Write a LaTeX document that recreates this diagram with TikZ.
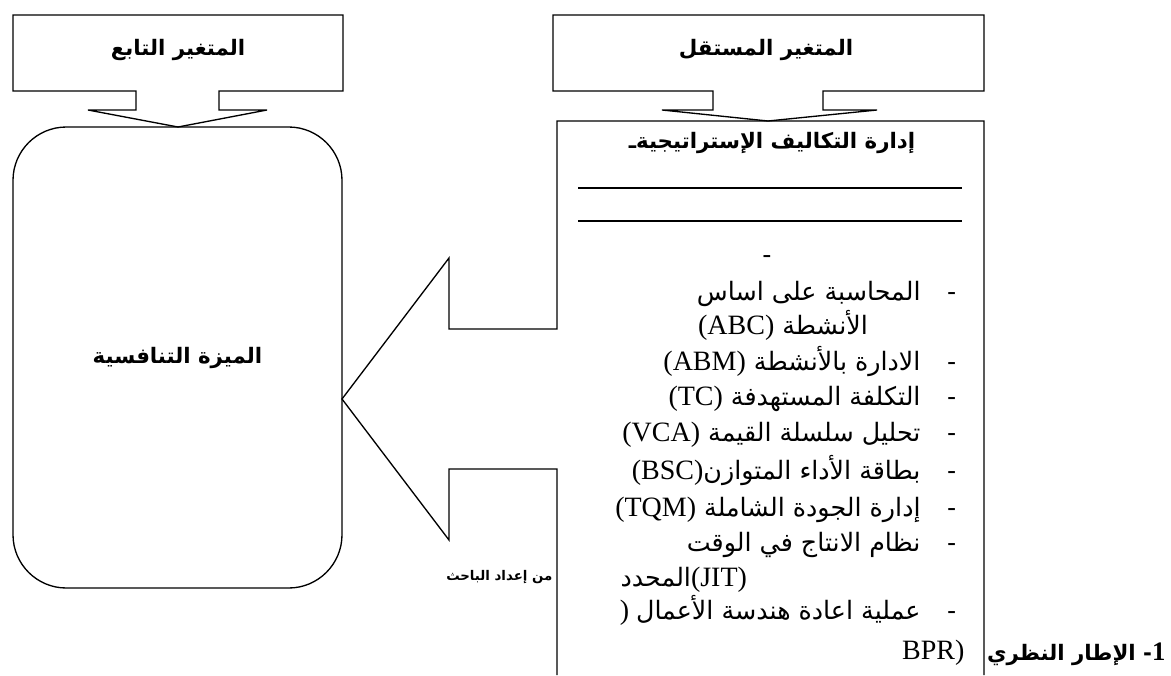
\documentclass[tikz,border=0pt]{standalone}
\usepackage{fontspec}
\setmainfont{Liberation Serif}
\newfontfamily\arfont[Script=Arabic]{DejaVu Sans}
\TeXXeTstate=1
\newcommand{\artext}[1]{{\arfont\beginR #1\endR}}
\newcommand{\arl}[1]{{\arfont\fontsize{19}{22}\selectfont\beginR #1\endR}}
\newcommand{\lat}[1]{\beginL{\rmfamily\fontsize{21}{24}\selectfont #1}\endL}
\begin{document}
\begin{tikzpicture}[x=0.75pt,y=-0.75pt,line width=1pt,line join=miter,
  outl/.style={draw=black,line width=1pt},
  head/.style={inner sep=0pt,font=\arfont\bfseries\fontsize{16}{18}\selectfont},
  li/.style={inner sep=0pt,anchor=base east,font=\fontsize{21}{24}\selectfont},
  lic/.style={inner sep=0pt,anchor=base,font=\fontsize{21}{24}\selectfont}]
\useasboundingbox (0,0) rectangle (1171,675);
% left callout (dependent variable)
\draw[outl] (13,15) -- (343,15) -- (343,91) -- (219,91) -- (219,110) -- (267,110)
  -- (178,127) -- (88,110) -- (136,110) -- (136,91) -- (13,91) -- cycle;
\node[head] (dep) at (178,50) {\artext{المتغير التابع}};
% rounded box
\node[outl,rounded corners=40pt,minimum width=246.75pt,minimum height=345.75pt,
  inner sep=0pt,font=\arfont\bfseries\fontsize{16}{18}\selectfont] (adv) at (177.5,357.5)
  {\artext{الميزة التنافسية}};
% right callout (independent variable)
\draw[outl] (553,15) -- (984,15) -- (984,91) -- (823,91) -- (823,110) -- (877,110)
  -- (768,121) -- (662,110) -- (713,110) -- (713,91) -- (553,91) -- cycle;
\node[head] (ind) at (766,50) {\artext{المتغير المستقل}};
% right box with big left arrow
\draw[outl] (984,675) -- (984,121) -- (557,121) -- (557,329) -- (449,329) -- (449,258)
  -- (342,399) -- (449,540) -- (449,469) -- (557,469) -- (557,675);
% contents
\node[head] (title) at (772,143) {\artext{إدارة التكاليف الإستراتيجيةـ}};
\draw[line width=1.2pt] (578,188) -- (962,188);
\draw[line width=1.2pt] (578,221) -- (962,221);
\node[lic] (dash0) at (767,263) {\arl{-}};
\node[li] (l1) at (957,300) {\arl{-\hspace{20pt}المحاسبة على اساس}};
\node[lic] (l2) at (783,334) {\arl{الأنشطة \lat{(ABC)}}};
\node[li] (l3) at (957,370) {\arl{-\hspace{20pt}الادارة بالأنشطة \lat{(ABM)}}};
\node[li] (l4) at (957,405) {\arl{-\hspace{20pt}التكلفة المستهدفة \lat{(TC)}}};
\node[li] (l5) at (957,441) {\arl{-\hspace{20pt}تحليل سلسلة القيمة \lat{(VCA)}}};
\node[li] (l6) at (957,479) {\arl{-\hspace{20pt}بطاقة الأداء المتوازن\lat{(BSC)}}};
\node[li] (l7) at (957,516) {\arl{-\hspace{20pt}إدارة الجودة الشاملة \lat{(TQM)}}};
\node[li] (l8) at (957,551) {\arl{-\hspace{20pt}نظام الانتاج في الوقت}};
\node[inner sep=0pt,anchor=base west,font=\fontsize{21}{24}\selectfont] (l9) at (620,586) {\arl{المحدد}(JIT)};
\node[li] (l10) at (957,619) {)\ \arl{-\hspace{20pt}عملية اعادة هندسة الأعمال}};
\node[li] (l11) at (965,659) {BPR)};
\node[inner sep=0pt,anchor=east,font=\arfont\bfseries\fontsize{10}{12}\selectfont] (src) at (553,577)
  {\artext{من إعداد الباحث}};
\node[inner sep=0pt,anchor=east,font=\arfont\bfseries\fontsize{16}{19}\selectfont] (frame) at (1166,654)
  {\artext{\beginL{\rmfamily\bfseries\fontsize{20}{22}\selectfont 1}\endL- الإطار النظري}};
\end{tikzpicture}
\end{document}
